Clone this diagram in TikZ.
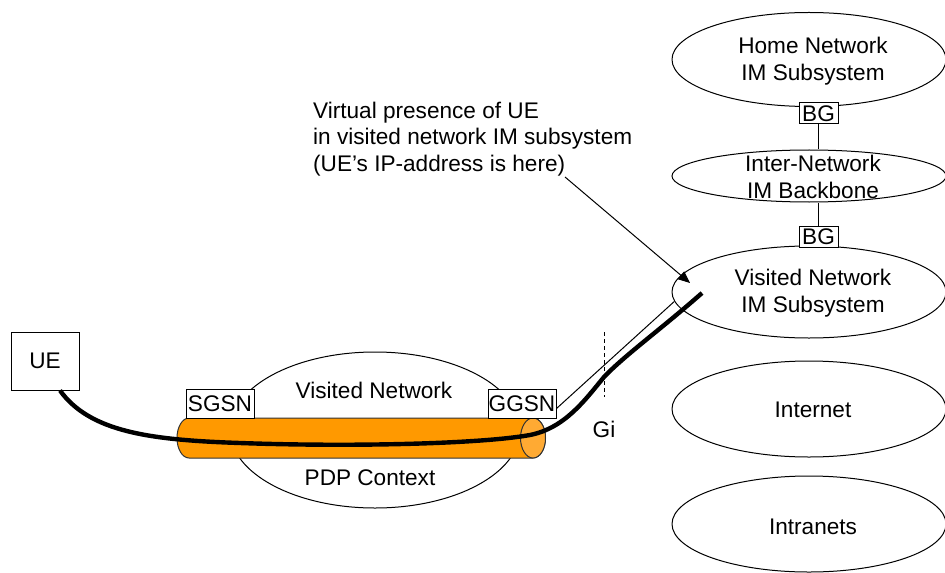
\documentclass[tikz,border=0pt]{standalone}
\usepackage{fontspec}
\setmainfont{Liberation Sans}
\usetikzlibrary{shapes.geometric,arrows.meta}
\definecolor{tubeorange}{HTML}{FF9900}
\definecolor{capfill}{HTML}{FFAA33}
\begin{document}
\begin{tikzpicture}[x=0.5pt,y=-0.5pt,
  font=\fontsize{11.3}{13.3}\selectfont,
  line width=0.5pt,
  box/.style={draw, fill=white, inner sep=0pt},
  net/.style={ellipse, draw, fill=white, inner sep=0pt},
  thickpath/.style={line width=2.2pt},
  tubeline/.style={draw=black!80, line width=0.5pt}]
\useasboundingbox (0,0) rectangle (945,572);

% right column of networks
\node[net, minimum width=137pt, minimum height=47pt] (home) at (809,59.5) {};
\node[align=center] (hometext) at (813,61) {Home Network\\IM Subsystem};
\node[net, minimum width=137pt, minimum height=26pt] (ibb) at (809,176) {};
\node[align=center] (ibbtext) at (813,177) {Inter-Network\\IM Backbone};
\node[net, minimum width=137pt, minimum height=46pt] (vim) at (809,292) {};
\node[align=center] (vimtext) at (813,293) {Visited Network\\IM Subsystem};
\node[net, minimum width=137pt, minimum height=48pt] (inet) at (809,409) {};
\node (inettext) at (813,410) {Internet};
\node[net, minimum width=137pt, minimum height=48pt] (intra) at (809,524) {};
\node (intratext) at (813,527) {Intranets};

\node[box, minimum width=19.5pt, minimum height=10.5pt] (bg1) at (818.5,113.5) {BG};
\node[box, minimum width=19.5pt, minimum height=10.5pt] (bg2) at (818.5,236.5) {BG};
\draw (bg1.south) -- (bg1.south |- ibb.north);
\draw (bg2.north) -- (bg2.north |- ibb.south);

% UE
\node[box, minimum width=34pt, minimum height=29pt] (ue) at (45,361) {UE};

% visited network ellipse
\node[net, minimum width=145pt, minimum height=78pt] (vn) at (375,430) {};
\node (vntext) at (374,390) {Visited Network};
\node (pdp) at (370,478) {PDP Context};

% tube (PDP context)
\path[fill=tubeorange, tubeline] (189,418) -- (533,418)
  arc[start angle=90, end angle=-90, x radius=6.25pt, y radius=10pt]
  -- (189,458)
  arc[start angle=270, end angle=90, x radius=6pt, y radius=10pt] -- cycle;
\path[fill=capfill, tubeline] (533,438) ellipse [x radius=6.25pt, y radius=10pt];

% SGSN / GGSN
\node[box, minimum width=34pt, minimum height=14.5pt] (sgsn) at (220,403.5) {SGSN};
\node[box, minimum width=34pt, minimum height=14.5pt] (ggsn) at (522,403.5) {GGSN};

% Gi reference point
\coordinate (gitop) at (604,332);
\coordinate (gibot) at (604,397);
\draw[dash pattern=on 2pt off 1.5pt] (gitop) -- (gibot);
\node (gi) at (604,429) {Gi};

% thin line GGSN -> visited IM subsystem
\draw ([yshift=5pt]ggsn.south east) -- (vim.184);

% thick user path
\coordinate (ueend) at (702,293);
\draw[thickpath] ([xshift=7.5pt]ue.south) .. controls (90,432) and (150,440) .. (240,443)
  .. controls (350,447) and (480,444) .. (530,435)
  .. controls (565,428) and (585,400) .. (604,377)
  .. controls (625,355) and (660,330) .. (ueend);

% annotation
\node[align=left, anchor=west] (note) at (306,139) {Virtual presence of UE\\in visited network IM subsystem\\(UE’s IP-address is here)};
\coordinate (astart) at (565,177);
\coordinate (atip) at (690,283);
\draw[-{Triangle[length=6pt,width=5pt]}] (astart) -- (atip);
\end{tikzpicture}
\end{document}
